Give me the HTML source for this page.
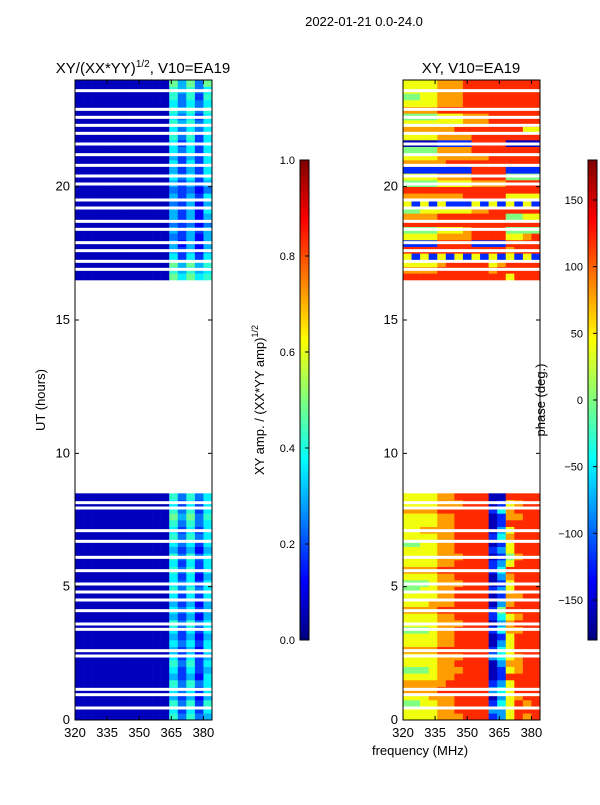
<!DOCTYPE html>
<html><head><meta charset="utf-8"><style>
body{margin:0;background:#fff;}
svg text{font-family:"Liberation Sans",sans-serif;}
</style></head><body>
<svg id="fig" width="600" height="800" xmlns="http://www.w3.org/2000/svg">
<text x="364" y="26" font-size="13" text-anchor="middle">2022-01-21 0.0-24.0</text>
<text x="143" y="73" font-size="15" text-anchor="middle">XY/(XX*YY)<tspan font-size="10" dy="-6">1/2</tspan><tspan dy="6">, V10=EA19</tspan></text>
<text x="471" y="73" font-size="15" text-anchor="middle">XY, V10=EA19</text>
<text x="45" y="400" font-size="13" text-anchor="middle" transform="rotate(-90 45 400)">UT (hours)</text>
<text x="420" y="755" font-size="13" text-anchor="middle">frequency (MHz)</text>
<text x="264" y="400" font-size="13" text-anchor="middle" transform="rotate(-90 264 400)">XY amp. / (XX*YY amp)<tspan font-size="9" dy="-6">1/2</tspan></text>
<text x="545" y="400" font-size="13" text-anchor="middle" transform="rotate(-90 545 400)">phase (deg.)</text>
<g id="g"></g>
</svg>
<script>
const tMin=0,tMax=24,fMin=320,fMax=384,rowH=0.25;
const lowStart=0,highStart=16.5;
// amplitude rows (digit d -> amp = 0.06*d), 16 channels of 4 MHz, starting at 0 h
const ampLow=["1111111111174745","1111111111163636","1111111111174737","1111111111153525","1111111111164636","1111111111174746","1111111111153526","1111111111163635","1111111111174736","1111111111163635","1111111111153526","1111111111164636","1111111111153525","1111111111163636","1111111111174746","1111111111153525","1111111111164635","1111111111153525","1111111111163636","1111111111174746","1111111111164636","1111111111163625","1111111111174736","1111111111163636","1111111111174746","1111111111153525","1111111111164636","1111111111174746","1111111111163636","1111111111174746","1111111111185847","1111111111174736","1111111111163636","1111111111174746"];
const ampHigh=["1111111111186867","1111111111175756","1111111111185857","1111111111163636","1111111111153525","1111111111152525","1111111111143525","1111111111153535","1111111111143424","1111111111153525","1111111111153526","1111111111143525","1111111111153536","1111111111143424","1111111111153535","1111111111164636","1111111111153536","1111111111163636","1111111111153536","1111111111164636","1111111111163636","1111111111174736","1111111111164646","1111111111175746","1111111111164636","1111111111175747","1111111111164646","1111111111174737","1111111111175746","1111111111185848"];
// phase rows (digit d -> -200 + 40*d degrees)
const phLow=["6666777888236878","6666778888336888","5566778888246878","6667778888136788","7777888888346888","7777788888236888","6666778888128888","5556777888126788","6666778888137788","6666777888346788","7777888888246888","6666778888136888","6666778888126888","5556778888247788","6666777888137888","6666778888246788","7777888888258888","6667778888137888","6666778888127788","5566778888236888","5556777888126888","6666778888137888","7777888888248888","6666778888236888","6666777888125788","6666778888236888","5566778888126888","6666778888247888","6677778888136888","6666778888128888","6666778888127788","7777888888247888","6666777888126788","6666778888118888"];
const phHigh=["8888888888886888","7777888888788888","6666788888678888","6262626262626262","8888888888887888","2222888822228888","6666777788886678","5555666788885555","8888888888888888","7777888888885566","5566666677888888","6262622262626262","7777777888886666","8888888888888888","5555666677778888","6666777788885555","2222222288882222","7777788888888888","6666777777888888","5555777788888888","1111222288881111","6666777788888888","7777778888888866","6666666777888888","5555666777888888","7777888888888888","6666777888888888","5566777888888888","6666777888888888","6666777888888888"];
// flagged (white) times in hours
const flagged=[0.45,0.95,1.15,2.4,2.6,3.4,3.6,4.1,4.5,4.8,5.1,5.6,6.1,6.7,7.1,7.95,8.15,16.9,17.2,17.6,17.9,18.4,18.7,19.2,19.5,20.1,20.4,20.8,21.2,21.6,22.0,22.3,22.6,22.9,23.6];
const xTicks=[320,335,350,365,380];
const yTicks=[0,5,10,15,20];
const ampTicks=[0.0,0.2,0.4,0.6,0.8,1.0];
const phTicks=[-150,-100,-50,0,50,100,150];

const NS="http://www.w3.org/2000/svg",G=document.getElementById('g');
function jet(v){v=Math.max(0,Math.min(1,v));const c=x=>Math.round(255*Math.max(0,Math.min(1,x)));
return `rgb(${c(1.5-Math.abs(4*v-3))},${c(1.5-Math.abs(4*v-2))},${c(1.5-Math.abs(4*v-1))})`;}
function el(t,a,p){const e=document.createElementNS(NS,t);for(const k in a)e.setAttribute(k,a[k]);(p||G).appendChild(e);return e;}
const panels=[{x0:75,low:ampLow,high:ampHigh,val:d=>d*0.06,name:'amp'},{x0:403,low:phLow,high:phHigh,val:d=>(-200+40*d+180)/360,name:'phase'}];
const W=137,Y0=80,Y1=720;
panels.forEach(P=>{
 const xs=f=>P.x0+(f-fMin)/(fMax-fMin)*W, ys=t=>Y1-(t-tMin)/(tMax-tMin)*(Y1-Y0);
 const draw=(rows,start)=>rows.forEach((r,i)=>{for(let j=0;j<r.length;j++){
  const t=start+i*rowH,f=fMin+j*4;
  const c=el('rect',{x:xs(f),y:ys(t+rowH),width:xs(f+4)-xs(f)+0.3,height:ys(t)-ys(t+rowH)+0.3,fill:jet(P.val(+r[j]))});
  
  }});
 draw(P.low,lowStart);draw(P.high,highStart);
 flagged.forEach(t=>{const l=el('rect',{x:P.x0,y:ys(t)-1.5,width:W,height:3,fill:'#fff'});
  
  });
 const fr=el('rect',{x:P.x0,y:Y0,width:W,height:Y1-Y0,fill:'none',stroke:'#000','stroke-width':1});
 
 
 xTicks.forEach(v=>{el('line',{x1:xs(v),x2:xs(v),y1:Y1,y2:Y1-4,stroke:'#000'});el('line',{x1:xs(v),x2:xs(v),y1:Y0,y2:Y0+4,stroke:'#000'});
  const t=el('text',{x:xs(v),y:Y1+17,'font-size':13,'text-anchor':'middle'});t.textContent=v;
  
  });
 yTicks.forEach(v=>{el('line',{x1:P.x0,x2:P.x0+4,y1:ys(v),y2:ys(v),stroke:'#000'});el('line',{x1:P.x0+W,x2:P.x0+W-4,y1:ys(v),y2:ys(v),stroke:'#000'});
  const t=el('text',{x:P.x0-5,y:ys(v)+4,'font-size':13,'text-anchor':'end'});t.textContent=v;
  
  });
});
// colorbars
[{x:300,ticks:ampTicks,min:0,max:1,fmt:v=>v.toFixed(1),name:'amp-colorbar'},{x:588,ticks:phTicks,min:-180,max:180,fmt:v=>v<0?'\u2212'+(-v):''+v,name:'phase-colorbar'}].forEach(C=>{
 const cy=v=>640-(v-C.min)/(C.max-C.min)*480;
 for(let k=0;k<120;k++){el('rect',{x:C.x,y:640-(k+1)*4,width:9,height:4.3,fill:jet((k+0.5)/120)});}
 const b=el('rect',{x:C.x,y:160,width:9,height:480,fill:'none',stroke:'#000'});
 
 
 C.ticks.forEach(v=>{el('line',{x1:C.x+9,x2:C.x+5,y1:cy(v),y2:cy(v),stroke:'#000'});
  const t=el('text',{x:C.x-5,y:cy(v)+4,'font-size':11,'text-anchor':'end'});
  t.textContent=C.fmt(v);
  
  });
});
</script>
</body></html>
